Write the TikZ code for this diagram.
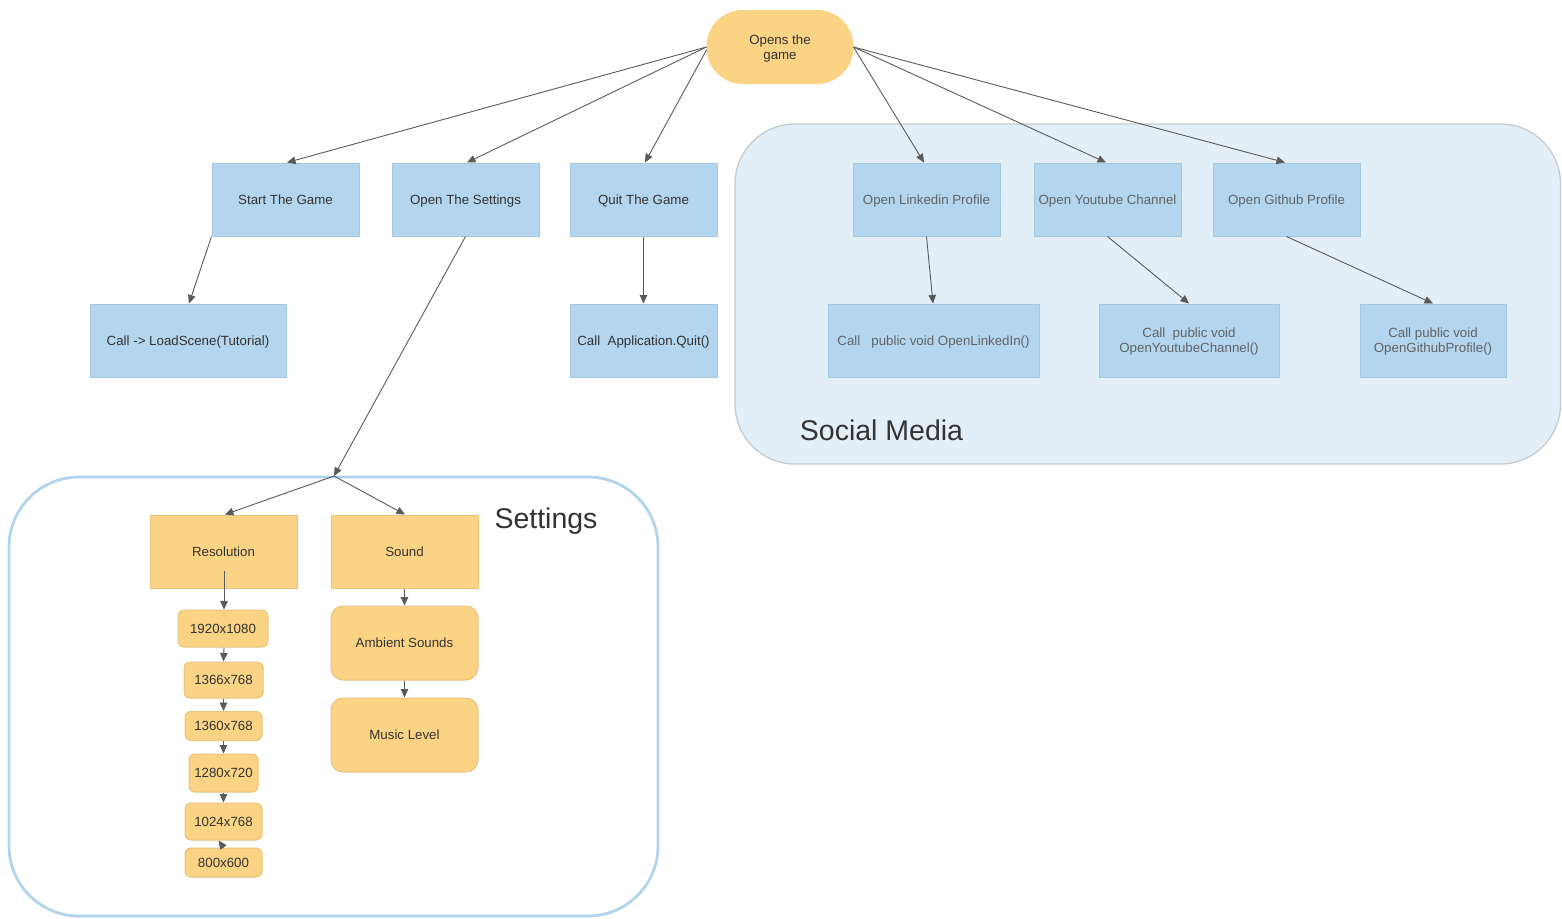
\documentclass[tikz,border=0pt]{standalone}
\usepackage{fontspec}
\setmainfont{Liberation Sans}
\usetikzlibrary{arrows.meta}

\definecolor{boxblue}{HTML}{B3D5EE}
\definecolor{boxblueline}{HTML}{A6C7E0}
\definecolor{boxyellow}{HTML}{FAD385}
\definecolor{boxyellowline}{HTML}{E9C47E}
\definecolor{txt}{HTML}{333333}
\definecolor{txtsoft}{HTML}{606468}
\definecolor{linegray}{HTML}{5A5A5A}
\definecolor{socialfill}{HTML}{E3EFF8}
\definecolor{socialline}{HTML}{C5CBD1}
\definecolor{setline}{HTML}{B0D4EC}

\begin{document}
\begin{tikzpicture}[x=1pt,y=-1pt,
  lbl/.style={font=\fontsize{13.3}{15}\selectfont, text=txt, align=center,
    inner sep=0pt, text depth=0pt},
  bluebox/.style={lbl, draw=boxblueline, fill=boxblue, line width=1pt,
    minimum width=147pt, minimum height=73pt},
  softbox/.style={bluebox, text=txtsoft},
  yelbox/.style={lbl, draw=boxyellowline, fill=boxyellow, line width=1pt,
    minimum width=147pt, minimum height=73pt},
  yelround/.style={yelbox, rounded corners=12pt, minimum height=74pt},
  resbox/.style={lbl, draw=boxyellowline, fill=boxyellow, line width=1pt,
    rounded corners=6pt},
  startnode/.style={lbl, draw=boxyellow, fill=boxyellow, line width=1pt,
    minimum width=146pt, minimum height=73pt, rounded corners=36pt},
  biglbl/.style={font=\fontsize{28.5}{32}\selectfont, text=txt, inner sep=0pt},
  conn/.style={draw=linegray, line width=0.9pt, -{Triangle[length=8.5pt,width=7.5pt]}},
]
\useasboundingbox (0,0) rectangle (1562,918);

% group frames
\draw[fill=socialfill, draw=socialline, line width=1.3pt, rounded corners=60pt]
  (735,124) rectangle (1560.5,464);
\draw[fill=white, draw=setline, line width=2.8pt, rounded corners=70pt]
  (9,477) rectangle (658,916);

% entry point
\node[startnode] (top) at (780,47) {Opens the\\game};

% main menu
\node[bluebox] (start) at (285.5,199.5) {Start The Game};
\node[bluebox] (settings) at (465.5,199.5) {Open The Settings};
\node[bluebox] (quit) at (643.5,199.5) {Quit The Game};
\node[bluebox, minimum width=196pt] (load) at (188,340.5) {Call -> LoadScene(Tutorial)};
\node[bluebox] (appquit) at (643.5,340.5) {Call\ \ Application.Quit()};

% social media
\node[softbox] (linkedin) at (926.5,199.5) {Open Linkedin Profile};
\node[softbox] (youtube) at (1107.5,199.5) {Open Youtube Channel};
\node[softbox] (github) at (1286.5,199.5) {Open Github Profile};
\node[softbox, minimum width=211pt] (calllinked) at (933.5,340.5) {Call\ \ \ public void OpenLinkedIn()};
\node[softbox, minimum width=180pt] (callyt) at (1189,340.5) {Call\ \ public void\\OpenYoutubeChannel()};
\node[softbox, minimum width=146pt] (callgh) at (1433,340.5) {Call public void\\OpenGithubProfile()};
\node[biglbl] (soclbl) at (881.5,430) {Social Media};

% settings
\coordinate (sj) at (334,476);
\node[biglbl] (setlbl) at (546,521) {Settings};
\node[yelbox] (res) at (223.5,551.5) {Resolution};
\node[yelbox] (sound) at (404.5,551.5) {Sound};
\node[yelround] (ambient) at (404.5,643) {Ambient Sounds};
\node[yelround] (music) at (404.5,735) {Music Level};
\node[resbox, minimum width=90pt, minimum height=37pt] (r1920) at (223,628.5) {1920x1080};
\node[resbox, minimum width=79pt, minimum height=36pt] (r1366) at (223.5,680) {1366x768};
\node[resbox, minimum width=77pt, minimum height=29pt] (r1360) at (223.5,726) {1360x768};
\node[resbox, minimum width=69pt, minimum height=38pt] (r1280) at (223.5,773) {1280x720};
\node[resbox, minimum width=77pt, minimum height=37pt] (r1024) at (223.5,821.5) {1024x768};
\node[resbox, minimum width=77pt, minimum height=29pt] (r800) at (223.5,862.5) {800x600};

% connectors from the entry point
\draw[conn] (top.west) -- ([xshift=1.5pt]start.north);
\draw[conn] (top.west) -- ([xshift=1.5pt]settings.north);
\draw[conn] ([yshift=-3pt]top.west) -- ([xshift=1.5pt]quit.north);
\draw[conn] (top.east) -- ([xshift=-2.5pt]linkedin.north);
\draw[conn] (top.east) -- ([xshift=-1.5pt]youtube.north);
\draw[conn] (top.east) -- ([xshift=-1.5pt]github.north);

% main menu actions
\draw[conn] (start.south west) -- ([xshift=1pt]load.north);
\draw[conn] (quit.south) -- (appquit.north);
\draw[conn] (settings.south) -- (sj);
\draw[conn] (sj) -- ([xshift=1.5pt]res.north);
\draw[conn] (sj) -- ([xshift=0.5pt]sound.north);

% social media actions
\draw[conn] (linkedin.south) -- ([xshift=-0.5pt]calllinked.north);
\draw[conn] (youtube.south) -- (callyt.north);
\draw[conn] (github.south) -- (callgh.north);

% settings chains
\draw[conn] ([yshift=-19pt,xshift=0.5pt]res.center) -- ([xshift=1pt]r1920.north);
\draw[conn] ([xshift=1pt]r1920.south) -- (r1366.north);
\draw[conn] (r1366.south) -- (r1360.north);
\draw[conn] (r1360.south) -- (r1280.north);
\draw[conn] (r1280.south) -- (r1024.north);
\draw[conn] (r800.north) -- ([xshift=-5pt]r1024.south);
\draw[conn] (sound.south) -- (ambient.north);
\draw[conn] (ambient.south) -- (music.north);
\end{tikzpicture}
\end{document}
